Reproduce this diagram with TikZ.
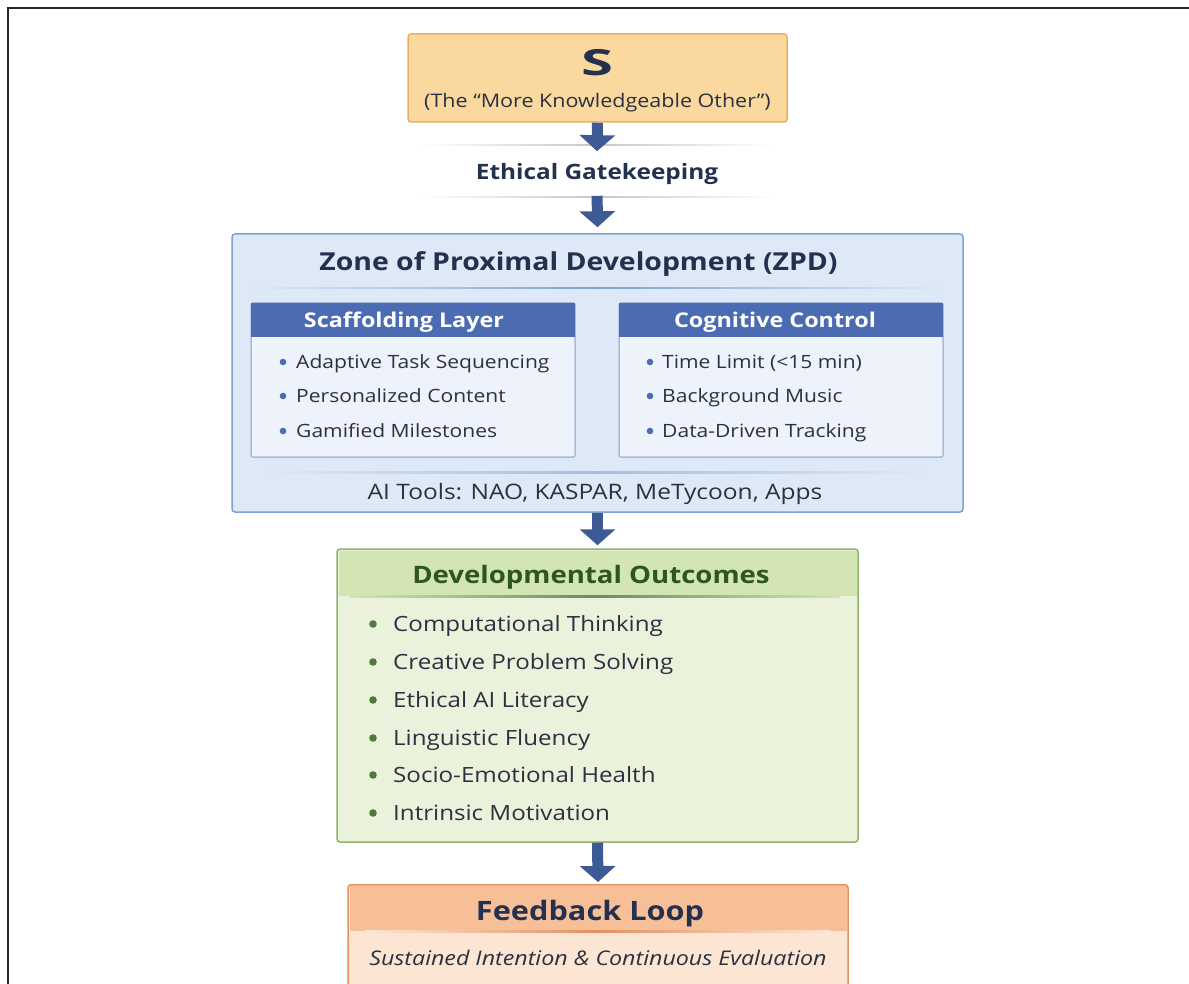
\documentclass[tikz,border=0pt]{standalone}
\usepackage{fontspec}
\setmainfont{Open Sans}[FakeStretch=1.15]
\usetikzlibrary{arrows.meta}
\definecolor{navy}{HTML}{23304E}
\definecolor{txt}{HTML}{2A3140}
\definecolor{arrowc}{HTML}{3E5A95}
\definecolor{sfill}{HTML}{FAD89E}
\definecolor{sdraw}{HTML}{E8B064}
\definecolor{zfill}{HTML}{DDE9F6}
\definecolor{zdraw}{HTML}{7FA2CE}
\definecolor{hblue}{HTML}{4B6BB2}
\definecolor{subfill}{HTML}{EEF2FA}
\definecolor{subdraw}{HTML}{A8BBDA}
\definecolor{gfillh}{HTML}{D4E5B4}
\definecolor{gfill}{HTML}{EAF2DC}
\definecolor{gdraw}{HTML}{8BB468}
\definecolor{gtitle}{HTML}{2E5720}
\definecolor{gbullet}{HTML}{4F7A3C}
\definecolor{ffillh}{HTML}{F7BF98}
\definecolor{ffill}{HTML}{FCE6D3}
\definecolor{fdraw}{HTML}{E2915F}
\newcommand{\fsz}[1]{\fontsize{#1}{#1}\selectfont}
\begin{document}
\begin{tikzpicture}[x=1pt,y=-1pt,
  box/.style={rounded corners=3pt, line width=1.5pt, inner sep=0pt},
  arr/.style={draw=arrowc, line width=11pt, -{Triangle[width=35pt,length=16pt]}},
  lbl/.style={inner sep=0pt, anchor=base},
  item/.style={inner sep=0pt, anchor=base west, text=txt, font=\fsz{18.3}},
  gitem/.style={inner sep=0pt, anchor=base west, text=txt, font=\fsz{21}},
  sep/.style 2 args={left color=#2, right color=#2, middle color=#1},
]
\useasboundingbox (0,0) rectangle (1189,984);
\clip (0,0) rectangle (1189,984);
\fill[white] (0,0) rectangle (1189,984);
\draw[line width=2pt, black!85] (8,984) -- (8,8) -- (1189,8);

% top box
\node[box, draw=sdraw, fill=sfill, minimum width=379pt, minimum height=88pt] (s) at (597.5,78) {};
\node[lbl, text=navy, font=\bfseries\fsz{36}] (stitle) at (597.5,76) {\scalebox{1.4}[1]{S}};
\node[lbl, text=txt, font=\fsz{18.7}] (ssub) at (597.5,107.5) {(The “More Knowledgeable Other”)};

% gatekeeping
\shade[sep={black!22}{white}] (420,144.5) rectangle (775,145.8);
\shade[sep={black!22}{white}] (420,196.5) rectangle (775,197.8);
\node[lbl, text=navy, font=\bfseries\fsz{21.2}] (gate) at (597,179.5) {Ethical Gatekeeping};

% ZPD
\node[box, draw=zdraw, fill=zfill, minimum width=731pt, minimum height=278pt] (zpd) at (597.5,373) {};
\node[lbl, text=navy, font=\bfseries\fsz{24.7}] (ztitle) at (578.5,270.8) {Zone of Proximal Development (ZPD)};
\shade[sep={zdraw}{zfill}] (250,287.5) rectangle (945,289);

% left sub box
\node[box, draw=subdraw, fill=subfill, minimum width=324pt, minimum height=154pt, rounded corners=2pt] (lsub) at (413,380) {};
\fill[hblue] (251,303) rectangle (575,337);
\node[lbl, text=white, font=\bfseries\fsz{20.3}] (lhead) at (404,327.2) {Scaffolding Layer};
% right sub box
\node[box, draw=subdraw, fill=subfill, minimum width=324pt, minimum height=154pt, rounded corners=2pt] (rsub) at (781,380) {};
\fill[hblue] (619,303) rectangle (943,337);
\node[lbl, text=white, font=\bfseries\fsz{20.3}] (rhead) at (775,327.2) {Cognitive Control};

\foreach \t/\y [count=\i] in {Adaptive Task Sequencing/362, Personalized Content/396, Gamified Milestones/431}{
  \fill[hblue] (283,\y) circle (3.3pt);
  \node[item] (l\i) at (296,\y+6.5) {\t};
}
\foreach \t/\y [count=\i] in {Time Limit (<15 min)/362, Background Music/396, Data-Driven Tracking/431}{
  \fill[hblue] (650,\y) circle (3.3pt);
  \node[item] (r\i) at (662,\y+6.5) {\t};
}
\shade[sep={zdraw!70}{zfill}] (260,471.5) rectangle (930,473);
\node[lbl, text=txt, font=\fsz{21.3}] (tools) at (595,499.6) {AI Tools: NAO, KASPAR, MeTycoon, Apps};

% outcomes
\node[box, draw=gdraw, fill=gfill, minimum width=521pt, minimum height=293pt] (out) at (597.5,695.5) {};
\fill[gfillh] (338.5,550.5) rectangle (856.5,596);
\shade[sep={gtitle!70}{gfillh}] (350,595.5) rectangle (840,597);
\node[lbl, text=gtitle, font=\bfseries\fsz{24}] (otitle) at (591,583.6) {Developmental Outcomes};
\foreach \t/\y [count=\i] in {Computational Thinking/624, Creative Problem Solving/662, Ethical AI Literacy/700, Linguistic Fluency/738, Socio-Emotional Health/775, Intrinsic Motivation/813}{
  \fill[gbullet] (373,\y) circle (3.8pt);
  \node[gitem] (o\i) at (393,\y+7.5) {\t};
}

% feedback
\node[box, draw=fdraw, fill=ffill, minimum width=500pt, minimum height=200pt, anchor=north] (fb) at (598,884) {};
\fill[ffillh] (349.5,885.5) rectangle (846.5,931);
\shade[sep={fdraw}{ffill}] (365,930.5) rectangle (830,932);
\node[lbl, text=navy, font=\bfseries\fsz{26.7}] (ftitle) at (590,920.5) {Feedback Loop};
\node[lbl, text=txt, font=\itshape\fsz{20.2}] (fsub) at (598,965.2) {Sustained Intention \& Continuous Evaluation};

% arrows
\draw[arr] (s.south) -- ([yshift=12pt]gate.north);
\draw[arr, shorten <=11pt] (gate.south) -- ([yshift=6pt]zpd.north);
\draw[arr] (zpd.south) -- ([yshift=3pt]out.north);
\draw[arr] (out.south) -- ([yshift=2pt]fb.north);
\end{tikzpicture}
\end{document}
